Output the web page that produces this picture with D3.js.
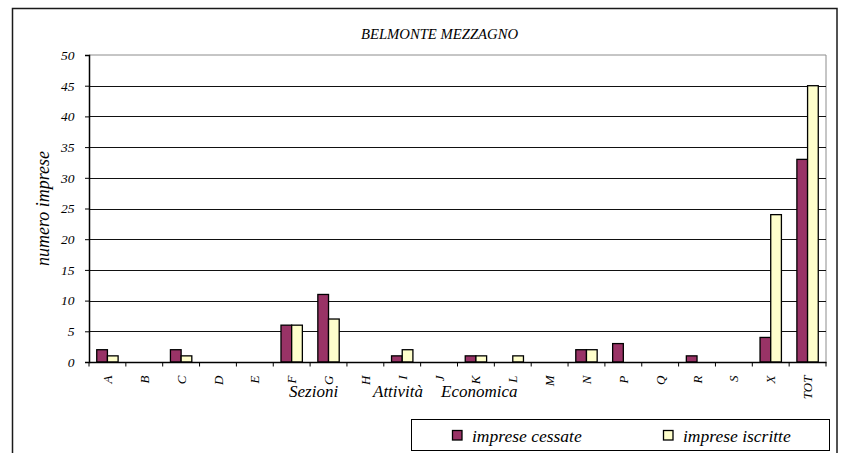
<!DOCTYPE html>
<html><head><meta charset="utf-8">
<script src="https://cdn.jsdelivr.net/npm/d3@7"></script>
<style>
html,body{margin:0;padding:0;background:#fff;}
svg{display:block;}
text{font-family:"Liberation Serif","Times New Roman",serif;font-style:italic;fill:#000;}
</style></head>
<body>
<script>
const categories = ["A","B","C","D","E","F","G","H","I","J","K","L","M","N","P","Q","R","S","X","TOT"];
const cessate  = [2,0,2,0,0,6,11,0,1,0,1,0,0,2,3,0,1,0,4,33];
const iscritte = [1,0,1,0,0,6,7,0,2,0,1,1,0,2,0,0,0,0,24,45];
const seriesNames = ["imprese cessate","imprese iscritte"];
const seriesColors = ["#993366","#FFFFCC"];
const yTicks = [0,5,10,15,20,25,30,35,40,45,50];
const title = "BELMONTE MEZZAGNO";
const yTitle = "numero imprese";
const xTitleWords = ["Sezioni","Attività","Economica"];

const FONT = '"Liberation Serif","Times New Roman",serif';
const W = 841, H = 453;
const svg = d3.select("body").append("svg").attr("width", W).attr("height", H);

// outer frame
svg.append("rect").attr("x",12.5).attr("y",8.5).attr("width",824.5).attr("height",470)
  .attr("fill","none").attr("stroke","#1a1a1a").attr("stroke-width",1.5);

const plot = {left:89, right:826, top:55, bottom:362};
const x = d3.scaleBand().domain(categories).range([plot.left, plot.right]).paddingInner(0).paddingOuter(0);
const y = d3.scaleLinear().domain([0,50]).range([plot.bottom, plot.top]);
const bw = x.bandwidth();
const barW = bw * 0.29;
const xs = d3.scaleBand().domain(seriesNames).range([(bw - 2*barW)/2, (bw + 2*barW)/2]);

// plot area border (gray)
svg.append("path")
  .attr("d", `M${plot.left},${plot.top}H${plot.right}V${plot.bottom}`)
  .attr("fill","none").attr("stroke","#8c8c8c").attr("stroke-width",1);

// gridlines
svg.append("g").selectAll("line").data(yTicks.filter(t=>t>0 && t<50)).join("line")
  .attr("x1",plot.left).attr("x2",plot.right)
  .attr("y1",d=>Math.round(y(d))+0.5).attr("y2",d=>Math.round(y(d))+0.5)
  .attr("stroke","#111").attr("stroke-width",1);

// bars
const data = categories.map((c,i)=>({c, vals:[cessate[i], iscritte[i]]}));
const g = svg.append("g");
data.forEach(d=>{
  d.vals.forEach((v,j)=>{
    if (v<=0) return;
    g.append("rect")
      .attr("x", x(d.c) + xs(seriesNames[j]))
      .attr("y", y(v))
      .attr("width", xs.bandwidth())
      .attr("height", y(0)-y(v))
      .attr("fill", seriesColors[j])
      .attr("stroke","#000").attr("stroke-width",1.3);
  });
});

// y axis
const yAxis = d3.axisLeft(y).tickValues(yTicks).tickSize(4).tickPadding(10.5);
const ya = svg.append("g").attr("transform",`translate(${plot.left},0)`).call(yAxis);
ya.select(".domain").attr("stroke","#000").attr("stroke-width",1.5);
ya.selectAll(".tick line").attr("stroke","#000");
ya.selectAll(".tick text").style("font-size","13.5px").style("font-family",FONT).style("font-style","italic");

// x axis
const xAxis = d3.axisBottom(x).tickSize(0).tickFormat(d=>d);
const xa = svg.append("g").attr("transform",`translate(0,${plot.bottom})`).call(xAxis);
xa.select(".domain").attr("stroke","#000").attr("stroke-width",1.5);
xa.selectAll(".tick text")
  .attr("transform","rotate(-90)")
  .attr("x",-13.5).attr("y",0).attr("dy","0.35em")
  .attr("text-anchor","end")
  .style("font-size","13px").style("font-family",FONT).style("font-style","italic");
// category boundary ticks
const bounds = categories.map(c=>x(c)).concat([plot.right]);
svg.append("g").selectAll("line").data(bounds).join("line")
  .attr("x1",d=>d).attr("x2",d=>d).attr("y1",plot.bottom).attr("y2",plot.bottom+4.5)
  .attr("stroke","#000").attr("stroke-width",1);

// title
svg.append("text").attr("x",439.5).attr("y",39).attr("text-anchor","middle")
  .style("font-size","14.7px").text(title);

// y title
svg.append("text").attr("transform",`translate(49,${(plot.top+plot.bottom)/2}) rotate(-90)`)
  .attr("text-anchor","middle").style("font-size","18px").text(yTitle);

// x title words
const xtPos = [289, 373, 441];
svg.append("g").selectAll("text").data(xTitleWords).join("text")
  .attr("x",(d,i)=>xtPos[i]).attr("y",396.5).style("font-size","17px").text(d=>d);

// legend
svg.append("rect").attr("x",411.5).attr("y",419.5).attr("width",418).attr("height",31)
  .attr("fill","#fff").attr("stroke","#000").attr("stroke-width",1);
const legX = [452, 663];
const lg = svg.append("g").selectAll("g").data(seriesNames).join("g")
  .attr("transform",(d,i)=>`translate(${legX[i]},0)`);
lg.append("rect").attr("x",0.5).attr("y",430.5).attr("width",9.5).attr("height",9.5)
  .attr("fill",(d,i)=>seriesColors[i]).attr("stroke","#000").attr("stroke-width",1.3);
lg.append("text").attr("x",20).attr("y",441.5).style("font-size","17.5px").text(d=>d);
</script>
</body></html>
